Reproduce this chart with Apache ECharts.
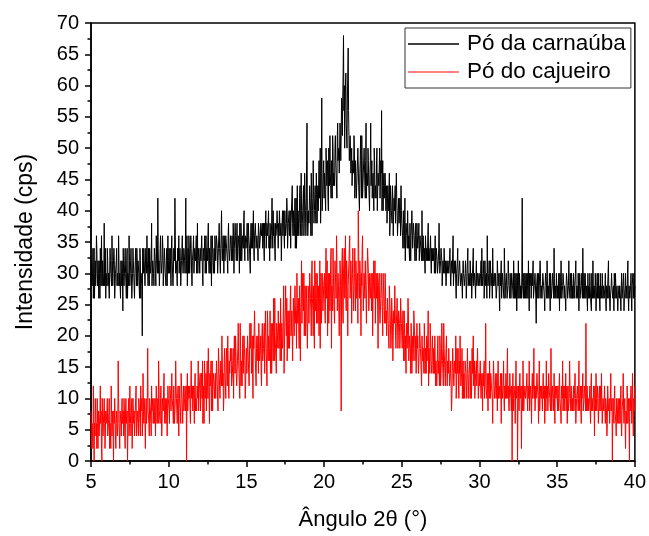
<!DOCTYPE html>
<html>
<head>
<meta charset="utf-8">
<script src="https://cdn.jsdelivr.net/npm/echarts@6/dist/echarts.min.js"></script>
<style>
html,body{margin:0;padding:0;background:#fff;}
#chart{width:649px;height:536px;}
</style>
</head>
<body>
<div id="chart"></div>
<script>
// Sampling grid: 2θ from 5° to 40°; main samples every 0.05°, mid samples offset by 0.025°
const xStart = 5;
const xStep = 0.05;
const xTicks = [5, 10, 15, 20, 25, 30, 35, 40];
const yTicks = [0, 5, 10, 15, 20, 25, 30, 35, 40, 45, 50, 55, 60, 65, 70];
const seriesNames = ['Pó da carnaúba', 'Pó do cajueiro'];

// Pó da carnaúba (black), samples at 5.00, 5.05, ... 40.00 (one row per degree)
const carnauba = [
28,32,30,26,34,30,28,36,30,32,26,30,34,28,30,32,28,38,30,26,
30,34,28,30,26,32,30,36,28,30,32,26,30,34,30,28,32,30,26,30,
32,24,30,28,34,30,32,26,30,36,28,32,30,28,34,30,26,32,30,34,
28,32,30,34,26,30,20,32,34,30,28,32,36,30,34,28,32,30,38,30,
32,28,34,30,36,32,42,30,28,34,32,30,36,28,32,34,30,32,28,36,
32,30,34,28,36,32,30,34,42,30,32,28,34,36,30,32,28,34,32,30,
34,30,42,32,28,34,36,30,32,34,28,32,36,30,34,32,30,38,32,34,
30,34,32,36,28,34,32,30,36,34,32,38,30,34,32,28,36,34,32,30,
34,32,36,30,34,38,32,34,40,32,36,30,34,32,36,34,30,38,34,32,
36,32,34,38,30,34,36,32,38,34,36,30,34,38,32,36,34,40,32,36,
34,38,32,36,34,30,38,36,34,40,32,36,38,34,36,32,38,34,36,38,
36,34,38,32,36,40,34,36,38,34,32,38,36,42,34,36,38,32,36,38,
38,34,36,40,36,32,38,36,40,34,38,36,42,34,38,40,36,34,38,44,
36,40,38,34,42,38,36,40,38,44,36,40,38,42,36,46,40,38,54,36,
40,38,44,36,42,40,48,38,42,40,46,38,44,40,42,50,38,58,42,46,
42,46,40,48,44,42,50,44,46,42,48,52,44,46,50,48,46,52,48,50,
50,54,52,56,58,68,60,56,62,54,58,66,52,48,50,46,44,48,46,50,
44,48,42,46,50,44,46,52,42,48,44,46,50,42,54,46,44,48,42,46,
54,44,42,46,40,48,44,42,50,40,46,44,42,48,56,44,40,46,42,44,
42,38,44,40,46,38,42,40,44,36,42,40,38,46,40,36,42,38,40,44,
38,36,40,34,42,36,38,34,40,36,32,38,36,40,34,38,36,32,38,34,
36,34,38,32,36,34,40,32,36,34,30,36,34,32,38,34,32,36,30,34,
34,32,30,36,32,34,30,32,38,30,32,34,28,32,30,34,32,28,32,30,
32,30,34,28,32,30,36,28,30,32,26,30,34,28,30,32,28,30,26,32,
30,28,32,26,30,34,28,30,32,28,26,30,34,28,30,26,32,28,30,28,
30,28,32,34,28,30,26,32,28,30,36,28,30,26,32,28,30,34,28,30,
28,30,26,32,28,30,24,28,32,26,30,28,34,26,28,30,26,32,28,26,
28,26,30,28,32,26,28,30,24,28,32,26,30,28,26,42,28,30,26,28,
30,26,28,32,24,28,30,26,28,32,26,28,30,22,28,26,30,28,32,26,
28,26,30,28,24,30,28,32,26,28,30,24,28,26,30,28,34,26,28,30,
26,28,30,24,28,32,26,28,30,26,28,24,30,28,26,32,28,30,26,28,
28,30,26,28,32,26,28,30,24,28,26,30,28,34,26,28,30,26,28,24,
26,28,30,26,24,28,32,26,28,30,24,28,26,30,28,24,26,28,30,26,
28,26,30,24,28,26,32,28,24,26,30,28,26,24,28,30,26,28,24,26,
26,28,24,30,26,28,24,26,30,28,26,32,24,28,26,30,24,28,26,30,
28
];

// Pó da carnaúba (black), samples at 5.025, 5.075, ... 39.975
const carnaubaMid = [
32,28,34,30,26,32,30,34,28,30,32,26,30,36,28,32,30,28,34,30,
28,32,30,26,34,30,28,32,30,34,26,30,32,28,30,36,28,30,32,28,
30,34,28,32,30,26,34,30,28,32,30,34,26,30,32,28,30,34,28,32,
32,30,26,32,30,28,34,30,32,28,34,30,32,28,30,34,30,32,28,32,
30,34,32,28,32,30,34,32,30,36,30,32,34,30,34,30,28,34,32,30,
34,32,30,34,32,28,34,32,36,32,30,34,32,30,34,28,32,36,30,34,
32,34,30,36,32,30,34,32,36,30,32,34,30,34,32,36,32,30,34,32,
34,32,36,30,34,32,36,32,30,34,36,32,34,30,36,32,34,30,34,36,
32,36,34,32,36,34,30,36,34,32,34,36,32,36,34,32,36,34,32,36,
34,36,32,36,34,38,34,36,32,36,34,38,32,36,34,36,38,34,36,34,
36,34,38,36,32,36,34,38,36,34,36,38,34,36,34,38,36,34,38,36,
38,36,34,38,36,34,38,36,40,36,38,34,38,36,40,38,34,38,36,40,
36,38,40,36,38,36,40,38,36,40,36,38,40,36,38,36,40,38,42,38,
40,36,42,38,34,44,40,36,42,38,46,36,40,44,38,42,36,48,40,38,
38,44,40,46,36,42,48,40,44,38,46,42,40,48,44,38,46,40,42,48,
46,42,50,44,48,40,46,52,44,48,42,50,46,44,52,46,42,54,48,46,
54,48,58,52,62,56,50,60,54,50,58,56,48,52,46,50,44,48,52,42,
48,42,46,50,44,40,48,46,52,42,46,50,44,48,42,46,50,44,40,48,
44,48,42,46,50,42,44,48,40,46,44,50,42,46,40,48,44,42,46,40,
44,38,42,40,36,44,40,38,42,36,40,44,38,42,36,40,38,42,36,40,
38,34,40,36,32,38,36,40,34,36,38,32,36,40,34,38,34,36,32,38,
34,36,32,36,34,32,34,36,32,34,36,32,34,36,32,34,34,32,34,32,
32,34,32,30,34,32,30,34,32,30,34,32,30,32,34,30,32,30,30,32,
30,32,30,28,32,30,28,32,30,28,30,32,28,30,32,28,30,28,30,30,
28,30,30,28,32,28,30,28,30,30,28,32,28,30,28,30,28,30,28,30,
28,30,28,30,28,32,28,30,28,26,30,28,32,28,30,28,26,30,28,30,
30,26,28,30,28,26,30,28,26,30,28,26,30,28,30,26,28,30,28,30,
26,30,28,26,28,30,26,28,30,26,28,30,26,28,30,28,26,28,30,26,
28,30,26,28,30,28,26,30,28,26,28,30,26,28,30,28,26,28,30,28,
26,30,28,26,28,30,26,28,28,26,28,30,26,28,30,26,28,28,26,28,
28,26,28,30,26,28,26,30,28,28,26,28,30,26,28,28,26,28,30,26,
26,28,28,30,26,28,26,28,30,26,28,28,26,28,30,26,28,26,28,30,
28,26,28,26,30,26,28,28,26,28,26,30,28,26,28,30,28,26,28,28,
26,28,26,28,26,30,26,28,26,28,28,26,28,30,26,28,26,28,26,28,
28,26,28,26,28,30,26,28,26,28,30,26,28,26,28,26,28,30,28,26
];

// Pó do cajueiro (red), samples at 5.00, 5.05, ... 40.00
const cajueiro = [
8,2,6,12,0,4,8,6,10,2,6,4,12,8,0,6,4,10,2,8,
6,10,4,8,2,6,12,4,8,0,6,10,2,8,4,16,6,2,8,4,
10,6,4,8,2,10,6,0,8,4,12,6,8,2,10,6,4,8,12,6,
8,4,10,6,12,8,4,14,6,8,2,10,6,18,8,4,10,6,12,8,
6,10,8,4,12,6,10,16,8,6,12,4,10,8,14,6,10,8,4,12,
10,6,12,8,14,10,6,12,8,16,10,6,12,4,10,8,14,10,6,12,
8,12,10,0,14,8,10,12,6,16,10,8,12,6,14,10,8,12,16,10,
12,8,14,10,6,12,16,10,14,8,12,18,10,14,12,8,16,12,14,10,
14,10,16,12,18,14,10,16,12,20,14,10,18,12,16,14,20,12,16,14,
16,12,14,18,10,16,20,14,12,18,16,14,22,12,16,18,14,20,16,12,
18,14,20,16,12,18,22,16,14,20,18,24,14,18,16,20,22,16,18,14,
20,16,18,22,14,20,18,24,16,20,18,14,22,18,20,26,16,20,18,22,
20,24,18,22,26,16,22,20,28,18,24,22,26,20,18,24,22,28,20,24,
22,26,20,28,24,30,22,26,18,28,24,32,22,26,30,24,20,28,26,22,
26,22,28,24,30,26,20,28,32,24,26,30,22,28,26,18,30,24,28,26,
28,24,30,26,32,28,22,30,26,34,28,24,30,26,32,28,36,24,30,28,
26,30,8,32,24,30,34,28,26,32,30,28,32,36,26,30,28,34,24,30,
28,32,26,30,40,28,32,26,30,34,28,24,30,32,26,28,34,30,26,28,
28,24,30,26,32,28,22,30,26,24,28,30,22,26,28,24,30,26,22,28,
24,20,26,22,28,24,18,26,22,20,24,28,20,22,26,18,24,22,20,26,
22,18,20,24,16,20,22,18,26,16,20,18,22,14,20,18,24,16,20,18,
18,20,16,22,18,14,20,16,18,22,14,18,20,16,24,18,14,20,16,18,
16,18,14,20,16,12,18,14,16,20,12,16,18,14,22,16,12,18,14,16,
14,18,12,16,8,14,18,12,16,14,10,18,14,12,16,20,12,14,10,16,
14,12,16,10,14,18,12,14,10,16,12,14,20,12,10,14,16,12,14,10,
12,16,10,14,8,12,16,10,22,12,14,8,12,16,10,14,12,6,16,12,
10,14,12,8,16,10,12,14,6,12,10,16,8,12,14,10,18,12,8,14,
12,8,0,14,10,12,6,16,10,0,12,8,14,10,2,12,16,8,10,12,
10,14,8,12,16,10,12,6,14,10,18,12,8,10,14,12,6,16,10,12,
12,8,14,10,6,12,16,10,8,14,12,10,18,8,12,10,14,6,12,10,
10,12,8,14,10,6,12,16,10,8,12,14,10,6,12,8,16,10,12,8,
8,12,10,14,6,10,12,8,16,10,12,6,10,14,8,12,10,22,8,12,
10,8,12,6,14,10,8,12,4,10,14,8,12,6,10,8,12,14,6,10,
8,12,6,10,4,12,8,10,6,14,8,0,10,6,12,8,4,10,6,8,
10,6,12,4,8,14,6,10,2,8,12,6,10,0,8,12,6,14,4,10,
12
];

// Pó do cajueiro (red), samples at 5.025, 5.075, ... 39.975
const cajueiroMid = [
4,6,2,8,6,10,4,2,6,8,4,8,6,2,10,4,8,6,4,6,
8,4,6,10,6,2,8,6,4,8,10,4,6,8,6,10,4,8,6,8,
6,8,10,4,8,6,8,4,10,6,8,4,10,6,8,8,6,10,4,8,
6,10,8,4,8,10,6,8,10,6,8,6,10,8,6,10,8,4,8,10,
8,6,10,8,10,8,6,12,8,10,8,6,10,12,8,10,6,10,8,10,
8,12,10,8,10,8,12,6,10,12,8,10,8,12,10,6,12,8,10,8,
10,8,12,10,8,12,10,8,12,10,12,8,10,12,8,10,12,10,8,12,
14,8,12,16,10,6,14,12,8,16,10,14,6,12,16,10,8,14,12,10,
10,16,12,8,18,14,10,16,20,12,8,16,14,10,18,12,16,10,14,18,
18,12,16,10,20,14,18,12,16,22,14,10,18,16,12,20,14,18,10,16,
14,20,16,12,22,18,14,20,10,18,24,16,12,20,18,14,22,16,20,12,
22,16,20,14,24,18,12,22,20,16,24,18,14,22,16,20,26,18,14,22,
18,24,20,16,26,22,18,24,14,22,28,20,16,24,22,18,26,20,24,16,
26,20,28,22,18,30,24,20,28,16,26,22,30,24,20,28,22,26,18,28,
22,30,26,20,32,24,28,18,26,30,22,28,24,20,32,26,22,30,24,28,
30,22,34,26,20,30,28,24,32,18,28,34,26,22,30,26,32,24,28,20,
32,24,28,34,22,30,26,36,24,30,20,28,34,26,32,22,30,28,24,34,
24,32,28,22,34,26,30,20,28,36,24,30,26,32,22,28,34,24,30,26,
30,24,20,28,26,32,22,26,30,18,28,24,22,30,26,20,28,24,30,22,
20,26,22,18,28,24,20,26,16,24,22,28,18,22,26,20,24,18,26,22,
18,24,16,22,20,14,22,18,24,16,20,14,22,18,16,24,20,18,14,22,
20,14,18,22,16,12,20,18,14,22,18,14,16,20,12,18,22,16,14,20,
14,18,20,12,16,14,20,16,12,18,14,22,16,12,18,14,16,20,12,16,
18,12,14,16,10,18,14,12,16,20,12,14,18,10,14,16,12,18,14,10,
10,16,14,12,18,10,14,16,12,10,18,14,12,16,10,14,12,18,10,14,
14,12,10,12,14,12,10,14,12,10,12,14,10,12,14,12,10,12,14,10,
12,10,14,12,10,12,10,12,14,10,12,10,12,10,12,14,10,12,10,12,
10,12,10,8,12,10,12,10,12,8,10,12,10,12,10,8,12,10,12,10,
12,10,12,10,8,12,10,12,10,12,10,8,12,10,12,10,12,8,12,10,
10,12,10,12,10,8,10,12,10,12,10,8,12,10,12,8,10,12,10,12,
8,10,12,10,8,12,10,8,12,10,10,8,12,10,8,10,12,8,10,10,
10,8,12,10,8,10,12,10,8,10,8,12,10,8,10,12,8,10,12,8,
8,10,8,12,8,10,8,10,12,8,10,8,10,8,12,10,8,10,8,10,
10,8,10,8,6,10,8,6,10,8,10,6,8,10,8,6,10,8,10,6,
8,10,6,8,10,8,6,10,8,6,10,8,6,10,8,10,6,8,10,8
];

// Interleave the main samples and the offset samples into [2θ, intensity] pairs
function merge(mainVals, midVals) {
  const out = [];
  for (let i = 0; i < mainVals.length; i++) {
    out.push([+(xStart + i * xStep).toFixed(3), mainVals[i]]);
    if (i < midVals.length) {
      out.push([+(xStart + i * xStep + xStep / 2).toFixed(3), midVals[i]]);
    }
  }
  return out;
}

const FONT = '"Liberation Sans", Arial, sans-serif';
const chart = echarts.init(document.getElementById('chart'), null, {renderer: 'canvas'});

chart.setOption({
  animation: false,
  backgroundColor: '#fff',
  grid: {
    left: 91, right: 11, top: 23, bottom: 71,
    show: true, borderColor: '#000', borderWidth: 1.5, backgroundColor: 'transparent'
  },
  legend: {
    left: 405, top: 28,
    orient: 'vertical',
    padding: [4, 5, 4, 3],
    itemWidth: 51, itemHeight: 1.5, itemGap: 4,
    borderColor: '#333', borderWidth: 1,
    backgroundColor: '#fff',
    textStyle: {fontFamily: FONT, fontSize: 22.5, color: '#000', lineHeight: 24, padding: [0, 0, 0, 3]},
    data: [
      {name: seriesNames[0], icon: 'rect', itemStyle: {color: '#000'}},
      {name: seriesNames[1], icon: 'rect', itemStyle: {color: '#ff5a5a'}}
    ]
  },
  xAxis: {
    type: 'value',
    min: xTicks[0], max: xTicks[xTicks.length - 1], interval: 5,
    name: 'Ângulo 2θ (°)',
    nameLocation: 'middle', nameGap: 48,
    nameTextStyle: {fontFamily: FONT, fontSize: 22, color: '#000'},
    axisLine: {show: true, lineStyle: {color: '#000', width: 1.5}},
    axisTick: {show: true, inside: false, length: 6, lineStyle: {color: '#000', width: 1.5}},
    minorTick: {show: true, splitNumber: 2, length: 3.5, lineStyle: {color: '#000', width: 1.5}},
    splitLine: {show: false},
    axisLabel: {fontFamily: FONT, fontSize: 20, color: '#000', margin: 11}
  },
  yAxis: {
    type: 'value',
    min: yTicks[0], max: yTicks[yTicks.length - 1], interval: 5,
    name: 'Intensidade (cps)',
    nameLocation: 'middle', nameGap: 54,
    nameTextStyle: {fontFamily: FONT, fontSize: 23, color: '#000'},
    axisLine: {show: true, lineStyle: {color: '#000', width: 1.5}},
    axisTick: {show: true, inside: false, length: 6, lineStyle: {color: '#000', width: 1.5}},
    minorTick: {show: true, splitNumber: 2, length: 3.5, lineStyle: {color: '#000', width: 1.5}},
    splitLine: {show: false},
    axisLabel: {fontFamily: FONT, fontSize: 20, color: '#000', margin: 12}
  },
  series: [
    {
      name: seriesNames[0], type: 'line', data: merge(carnauba, carnaubaMid),
      symbol: 'none', showSymbol: false,
      lineStyle: {color: '#000', width: 1},
      itemStyle: {color: '#000'}
    },
    {
      name: seriesNames[1], type: 'line', data: merge(cajueiro, cajueiroMid),
      symbol: 'none', showSymbol: false,
      lineStyle: {color: '#ff0000', width: 1},
      itemStyle: {color: '#ff0000'}
    }
  ]
});
</script>
</body>
</html>
